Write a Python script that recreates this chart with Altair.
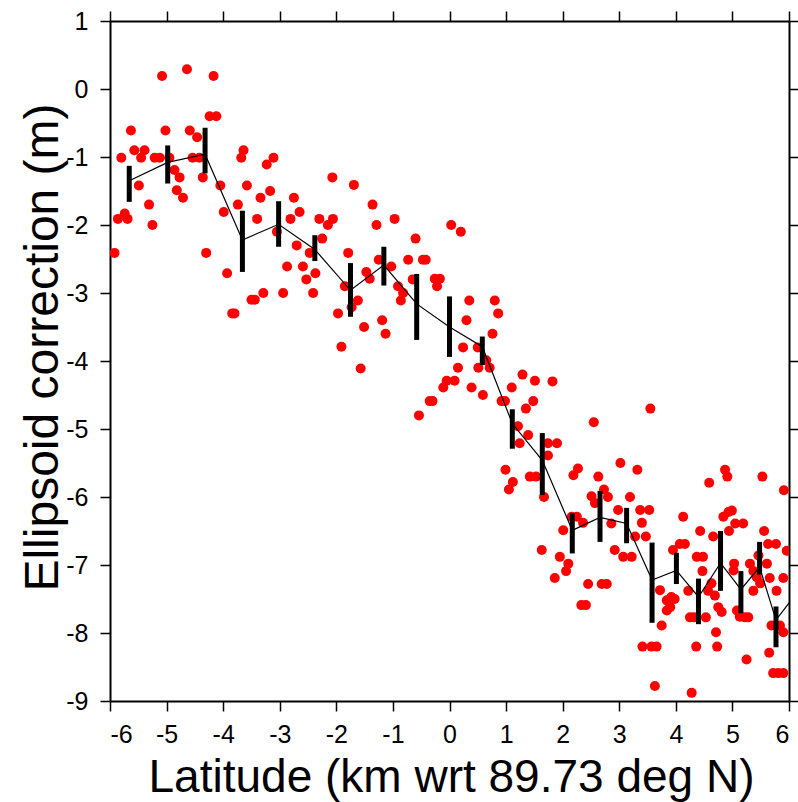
import altair as alt
import pandas as pd

# ---- scatter samples: latitude (km wrt 89.73 deg N) and ellipsoid correction (m)
pts_x = [
    -5.92, -5.86, -5.74, -5.69, -5.80, -5.63, -5.57, -5.45, -5.39, -5.49, -5.31, -5.25, -5.21, -5.12,
    -5.08, -5.02, -4.95, -4.86, -4.77, -4.82, -4.71, -4.64, -4.59, -4.46, -4.54, -4.42, -4.36, -4.30,
    -4.24, -4.12, -4.17,
    -4.05, -3.99, -3.93, -3.84, -3.80, -3.74, -3.68, -3.64, -3.58, -3.50, -3.44, -3.40, -3.34, -3.29,
    -3.23, -3.11, -3.17, -3.05, -2.94, -2.87, -2.81, -2.75, -2.65, -2.70, -2.59, -2.53, -2.47, -2.41,
    -2.37, -2.30, -2.25, -2.15, -2.06, -2.07,
    -1.97, -1.91, -1.85, -1.79, -1.73, -1.69, -1.62, -1.57, -1.51, -1.47, -1.41, -1.36, -1.29, -1.25,
    -1.19, -1.13, -1.03, -0.97, -0.91, -0.82, -0.86, -0.73, -0.65, -0.60, -0.54, -0.47, -0.42, -0.35,
    -0.30, -0.26, -0.17, -0.22, -0.11, -0.05,
    0.03, 0.09, 0.15, 0.20, 0.24, 0.30, 0.35, 0.39, 0.50, 0.51, 0.59, 0.65, 0.71, 0.76, 0.80, 0.86,
    0.92, 0.98, 0.99, 1.05, 1.12, 1.10, 1.21, 1.24, 1.29, 1.35, 1.39, 1.42, 1.48, 1.51, 1.53, 1.63,
    1.67, 1.74, 1.74, 1.82, 1.86, 1.90, 1.95,
    2.01, 2.06, 2.10, 2.16, 2.19, 2.25, 2.27, 2.33, 2.41, 2.36, 2.45, 2.51, 2.55, 2.57, 2.63, 2.69,
    2.73, 2.78, 2.80, 2.86, 2.92, 2.98, 3.02, 3.07, 3.19, 3.22, 3.28, 3.32, 3.37, 3.40, 3.41, 3.47,
    3.53, 3.55, 3.57, 3.63, 3.66, 3.72, 3.75, 3.84, 3.84, 3.90, 3.92, 3.95, 3.98,
    4.07, 4.16, 4.13, 4.22, 4.25, 4.32, 4.28, 4.36, 4.37, 4.43, 4.47, 4.48, 4.53, 4.57, 4.59, 4.63,
    4.66, 4.69, 4.71, 4.73, 4.75, 4.81, 4.84, 4.87, 4.91, 4.93, 4.94, 4.99, 5.03, 5.02, 5.05, 5.08,
    5.13, 5.19, 5.22, 5.25, 5.28, 5.31, 5.37, 5.37, 5.43, 5.46, 5.49, 5.53, 5.56, 5.61, 5.63, 5.65,
    5.66, 5.69, 5.72, 5.77, 5.78, 5.81, 5.84, 5.90, 5.90, 5.90, 5.91, 5.96,
]
pts_y = [
    -2.41, -1.91, -1.83, -1.91, -1.01, -0.61, -0.90, -1.01, -0.90, -1.42, -1.70, -2.00, -1.01, -1.01,
    0.19, -0.61, -1.01, -1.19, -1.30, -1.49, -1.60, 0.29, -0.61, -0.71, -1.01, -1.01, -1.30, -2.41,
    -0.40, -0.40, 0.19,
    -1.42, -1.81, -2.71, -3.30, -3.30, -1.70, -1.01, -0.90, -1.42, -3.10, -3.10, -1.91, -1.60, -3.00,
    -1.11, -1.01, -1.50, -2.10, -3.00, -2.61, -1.91, -1.60, -1.81, -2.30, -2.61, -2.80, -2.41, -3.00,
    -2.71, -1.91, -2.20, -2.00, -1.91, -1.30,
    -3.30, -3.79, -2.90, -2.41, -3.21, -1.41, -3.11, -4.11, -3.50, -2.69, -2.79, -1.70, -2.00, -2.51,
    -3.40, -3.60, -2.61, -1.91, -2.90, -3.00, -3.11, -2.51, -2.80, -2.20, -4.80, -2.51, -2.51, -4.59,
    -4.59, -2.79, -2.79, -2.90, -4.39, -4.29,
    -2.00, -4.29, -4.10, -2.10, -3.80, -3.40, -3.11, -4.39, -3.80, -4.10, -4.50, -3.99, -4.10, -3.60,
    -3.11, -3.30, -4.59, -4.59, -5.60, -5.89, -5.78, -4.39, -4.96, -5.21, -4.20, -4.70, -5.09, -5.70,
    -4.59, -4.29, -5.70, -6.78, -6.00, -5.21, -5.39, -4.30, -7.19, -5.21, -6.88,
    -6.49, -7.09, -6.98, -6.29, -5.68, -6.29, -5.58, -7.59, -7.59, -6.38, -7.28, -5.99, -4.90, -6.09,
    -5.70, -7.28, -5.89, -7.28, -6.00, -6.39, -6.78, -6.19, -5.50, -6.88, -6.00, -6.88, -6.58, -5.60,
    -6.19, -6.38, -8.20, -6.58, -6.19, -4.70, -8.20, -8.78, -8.20, -7.37, -7.89, -7.52, -7.67, -7.62,
    -7.47, -6.78, -7.50,
    -6.69, -6.69, -6.29, -7.38, -7.77, -7.77, -8.88, -8.20, -6.88, -6.50, -7.09, -6.88, -7.77, -7.38,
    -5.79, -7.27, -6.58, -7.45, -7.99, -8.20, -7.62, -7.69, -6.29, -5.60, -5.70, -6.22, -6.50, -6.20,
    -6.98, -7.08, -6.39, -7.67, -7.76, -6.39, -7.77, -8.39, -7.77, -6.98, -7.09, -7.38, -7.18, -6.86,
    -7.27, -5.70, -6.50, -6.98, -6.69, -8.29, -7.19, -7.89, -8.59, -6.69, -7.38, -8.59, -7.89, -7.19,
    -7.99, -8.59, -5.90, -6.79,
]

# ---- binned means with error bars
bin_x = [-5.66, -4.98, -4.32, -3.66, -3.02, -2.38, -1.75, -1.16, -0.58, 0.00, 0.58, 1.11,
         1.64, 2.17, 2.66, 3.13, 3.58, 4.01, 4.40, 4.79, 5.15, 5.48, 5.77, 6.12]
bin_mean = [-1.35, -1.08, -0.96, -2.22, -1.99, -2.36, -2.96, -2.59, -3.16, -3.50, -3.79, -4.92,
            -5.46, -6.49, -6.30, -6.39, -7.22, -7.08, -7.47, -6.97, -7.36, -7.03, -7.81, -7.43]
bin_hi = [-1.13, -0.83, -0.57, -1.79, -1.65, -2.15, -2.56, -2.32, -2.72, -3.05, -3.64, -4.71,
          -5.06, -6.24, -5.91, -6.16, -6.67, -6.82, -7.20, -6.50, -7.09, -6.66, -7.61, -7.20]
bin_lo = [-1.66, -1.39, -1.24, -2.69, -2.32, -2.53, -3.35, -2.89, -3.69, -3.94, -4.06, -5.29,
          -5.97, -6.83, -6.66, -6.68, -7.85, -7.28, -7.87, -7.38, -7.71, -7.14, -8.21, -7.70]

x_ticks = [-6, -5, -4, -3, -2, -1, 0, 1, 2, 3, 4, 5, 6]
y_ticks = [1, 0, -1, -2, -3, -4, -5, -6, -7, -8, -9]

x_title = "Latitude (km wrt 89.73 deg N)"
y_title = "Ellipsoid correction (m)"

pts = pd.DataFrame({"lat": pts_x, "corr": pts_y})
bins = pd.DataFrame({"lat": bin_x, "mean": bin_mean, "hi": bin_hi, "lo": bin_lo})

FONT = "Liberation Sans"
xscale = alt.Scale(domain=[-6, 6], nice=False, zero=False)
yscale = alt.Scale(domain=[-9, 1], nice=False, zero=False)

common = dict(grid=False, domainColor="black", domainWidth=2, tickColor="black",
              tickWidth=1.5, tickSize=10)

x_bottom = alt.Axis(orient="bottom", values=x_ticks, title=x_title, labelFont=FONT,
                    labelFontSize=25, labelColor="black", labelPadding=11,
                    labelExpr="'' + datum.value",
                    titleFont=FONT, titleFontSize=46, titleFontWeight="normal",
                    titleColor="black", titleX=341, titleY=90, titleAlign="center",
                    titleBaseline="alphabetic", **common)
y_left = alt.Axis(orient="left", values=y_ticks, title=y_title, labelFont=FONT,
                  labelFontSize=25, labelColor="black", labelPadding=12,
                  labelExpr="'' + datum.value",
                  titleFont=FONT, titleFontSize=48, titleFontWeight="normal",
                  titleColor="black", titleX=-53, titleY=326, titleAlign="center",
                  titleBaseline="alphabetic", titleAngle=270, **common)
x_top = alt.Axis(orient="top", values=x_ticks, labels=False, title=None, **common)
y_right = alt.Axis(orient="right", values=y_ticks, labels=False, title=None, **common)

points = alt.Chart(pts).mark_circle(size=100, color="#ff0000", opacity=1, clip=True).encode(
    x=alt.X("lat:Q", scale=xscale, axis=x_bottom),
    y=alt.Y("corr:Q", scale=yscale, axis=y_left),
)

line = alt.Chart(bins).mark_line(color="black", strokeWidth=1.2, clip=True).encode(
    x=alt.X("lat:Q", scale=xscale, axis=x_top),
    y=alt.Y("mean:Q", scale=yscale, axis=y_right),
)

bars = alt.Chart(bins).mark_rule(color="black", strokeWidth=5, clip=True).encode(
    x=alt.X("lat:Q", scale=xscale, axis=None),
    y=alt.Y("lo:Q", scale=yscale, axis=None),
    y2="hi:Q",
)

chart = alt.layer(points, line, bars).resolve_axis(x="independent", y="independent").properties(
    width=679, height=680,
    padding={"left": 110, "top": 21, "right": 9, "bottom": 101},
    autosize=alt.AutoSizeParams(type="none"),
    background="white",
).configure_view(stroke=None)

chart.save("out.html", embed_options={"renderer": "svg", "actions": False})
